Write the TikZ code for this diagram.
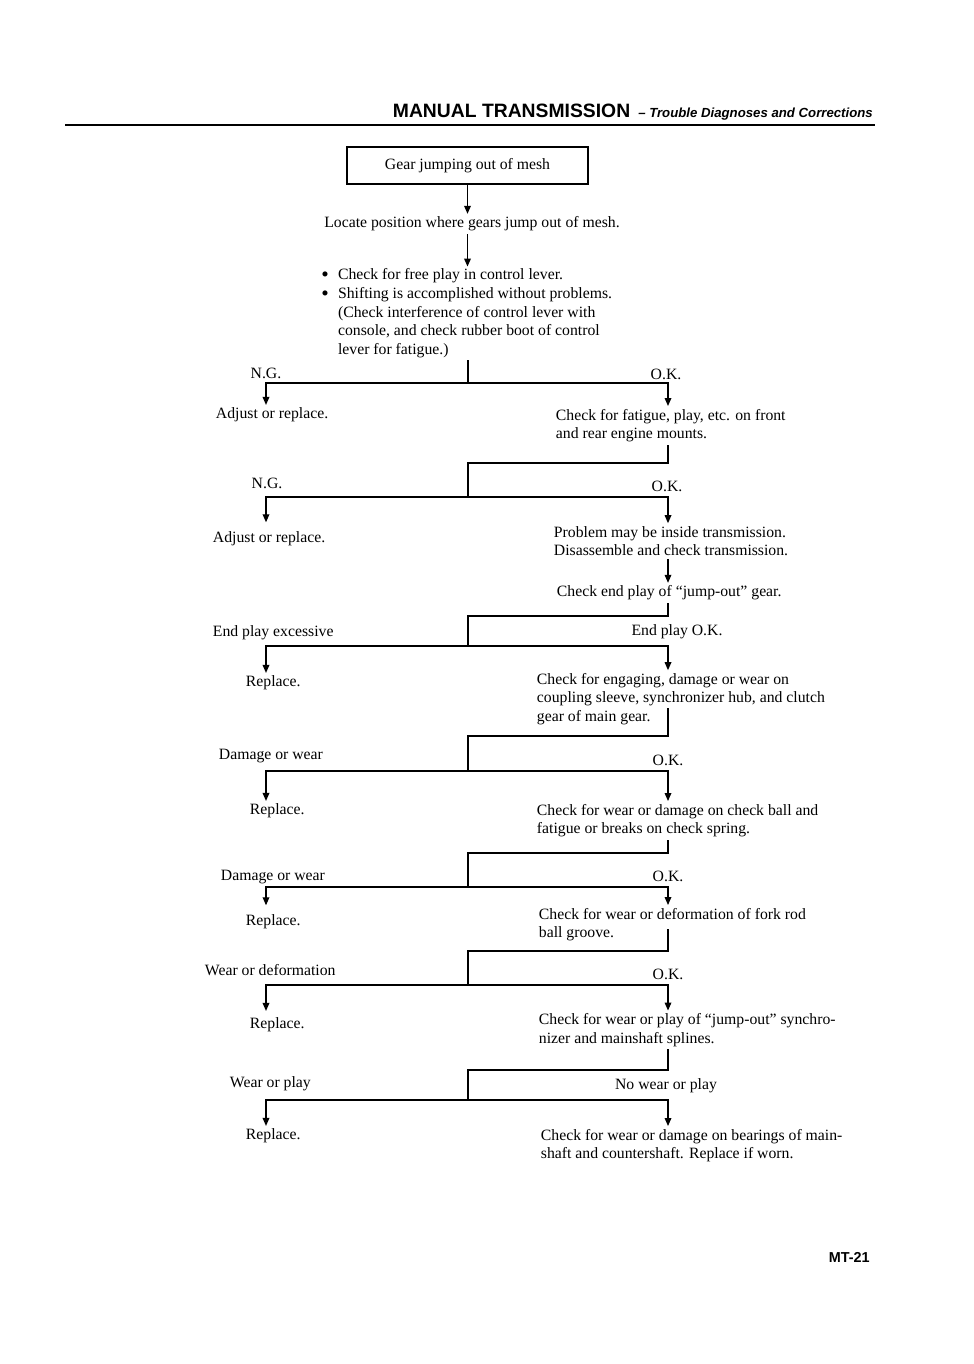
\documentclass[tikz,border=0pt]{standalone}
\usepackage{fontspec}
\setmainfont{Liberation Serif}
\newfontfamily\hdr{Liberation Sans}
\usetikzlibrary{arrows.meta}
\newcommand{\bigbul}{\smash{\raisebox{-1.2pt}{\fontsize{16}{14}\selectfont\textbullet}}}
\begin{document}
\begin{tikzpicture}[x=0.75pt,y=-0.75pt,
  every node/.style={font=\fontsize{11.8}{14}\selectfont, inner sep=2pt},
  txt/.style={anchor=west, align=left, yshift=-1.5pt},
  lab/.style={anchor=center, yshift=-1.5pt},
  ln/.style={line width=0.9pt},
  arr/.style={line width=0.9pt, -{Triangle[width=5pt,length=6pt]}},
  startbox/.style={draw, line width=1.5pt, minimum width=180.75pt, minimum height=27.75pt}
]
\useasboundingbox (0,0) rectangle (974,1364);

% header
\node[anchor=base east, inner sep=0] (hdr) at (873,117)
  {{\hdr\bfseries\fontsize{14.5}{16}\selectfont MANUAL TRANSMISSION}\hspace{6pt}{\hdr\bfseries\itshape\fontsize{9.9}{12}\selectfont – Trouble Diagnoses and Corrections}};
\draw[line width=1.5pt] (65,125) -- (875,125);

% column coordinates
\coordinate (xL) at (266,0);
\coordinate (xM) at (468,0);
\coordinate (xR) at (668,0);

% nodes
\node[startbox] (start) at (467.5,165.5) {Gear jumping out of mesh};
\node[lab] (loc) at (472,222) {Locate position where gears jump out of mesh.};
\node[anchor=west, inner sep=0, yshift=-1.5pt] (bul) at (321,311.5) {\begin{tabular}{@{}l@{\hspace{7pt}}l@{}}
\bigbul & Check for free play in control lever.\\
\bigbul & Shifting is accomplished without problems.\\
 & (Check interference of control lever with\\
 & console, and check rubber boot of control\\
 & lever for fatigue.)\end{tabular}};

\node[lab] (ng1) at (266,371) {N.G.};
\node[lab] (ok1) at (666,372) {O.K.};
\node[txt] (adj1) at (213,413) {Adjust or replace.};
\node[txt] (mounts) at (553,423.5) {Check for fatigue, play, etc. on front\\and rear engine mounts.};

\node[lab] (ng2) at (267,481) {N.G.};
\node[lab] (ok2) at (667,484) {O.K.};
\node[txt] (adj2) at (210,537) {Adjust or replace.};
\node[txt] (prob) at (551,539) {Problem may be inside transmission.\\Disassemble and check transmission.};
\node[txt] (endp) at (554,591) {Check end play of “jump-out” gear.};

\node[txt] (exc) at (210,631) {End play excessive};
\node[lab] (epok) at (677,630) {End play O.K.};
\node[txt] (rep1) at (243,681) {Replace.};
\node[txt] (eng) at (534,697) {Check for engaging, damage or wear on\\coupling sleeve, synchronizer hub, and clutch\\gear of main gear.};

\node[txt] (dw1) at (216,754) {Damage or wear};
\node[lab] (ok4) at (668,758) {O.K.};
\node[txt] (rep2) at (247,809) {Replace.};
\node[txt] (ball) at (534,818.5) {Check for wear or damage on check ball and\\fatigue or breaks on check spring.};

\node[txt] (dw2) at (218,875) {Damage or wear};
\node[lab] (ok5) at (668,874) {O.K.};
\node[txt] (rep3) at (243,920) {Replace.};
\node[txt] (fork) at (536,922.5) {Check for wear or deformation of fork rod\\ball groove.};

\node[txt] (wd) at (202,968) {Wear or deformation};
\node[lab] (ok6) at (668,972) {O.K.};
\node[txt] (rep4) at (247,1023) {Replace.};
\node[txt] (sync) at (536,1028) {Check for wear or play of “jump-out” synchro-\\nizer and mainshaft splines.};

\node[txt] (wp) at (227,1082) {Wear or play};
\node[lab] (nwp) at (666,1084) {No wear or play};
\node[txt] (rep5) at (243,1134) {Replace.};
\node[txt] (bear) at (538,1143.5) {Check for wear or damage on bearings of main-\\shaft and countershaft. Replace if worn.};

\node[anchor=base east, inner sep=0, font=\hdr\bfseries\fontsize{10.8}{12}\selectfont] (mt) at (870,1262) {MT-21};

% junction coordinates
\coordinate (b1) at (468,383);
\coordinate (h2) at (468,463);
\coordinate (b2) at (468,497);
\coordinate (h3) at (468,616);
\coordinate (b3) at (468,646);
\coordinate (s4) at (668,708);
\coordinate (h4) at (468,736);
\coordinate (b4) at (468,771);
\coordinate (h5) at (468,853);
\coordinate (b5) at (468,887);
\coordinate (s6) at (668,929);
\coordinate (h6) at (468,951);
\coordinate (b6) at (468,985);
\coordinate (h7) at (468,1070);
\coordinate (b7) at (468,1100);

% connectors
\draw[arr] (start.south) -- (start.south |- loc.north);
\draw[arr] (loc.south -| start.south) -- (start.south |- bul.north);

\draw[ln] (bul.south -| xM) -- (b1);
\draw[arr] (b1) -| (adj1.north -| xL);
\draw[arr] (b1) -| (mounts.north -| xR);

\draw[ln] (mounts.south -| xR) |- (h2) -- (b2);
\draw[arr, shorten >=5pt] (b2) -| (adj2.north -| xL);
\draw[arr] (b2) -| (prob.north -| xR);
\draw[arr] (prob.south -| xR) -- (endp.north -| xR);

\draw[ln] (endp.south -| xR) |- (h3) -- (b3);
\draw[arr] (b3) -| (rep1.north -| xL);
\draw[arr] (b3) -| (eng.north -| xR);

\draw[ln] (s4) |- (h4) -- (b4);
\draw[arr] (b4) -| (rep2.north -| xL);
\draw[arr] (b4) -| (ball.north -| xR);

\draw[ln] (ball.south -| xR) |- (h5) -- (b5);
\draw[arr, shorten >=5pt] (b5) -| (rep3.north -| xL);
\draw[arr] (b5) -| (fork.north -| xR);

\draw[ln] (s6) |- (h6) -- (b6);
\draw[arr, shorten >=3pt] (b6) -| (rep4.north -| xL);
\draw[arr] (b6) -| (sync.north -| xR);

\draw[ln] (sync.south -| xR) |- (h7) -- (b7);
\draw[arr] (b7) -| (rep5.north -| xL);
\draw[arr] (b7) -| (bear.north -| xR);
\end{tikzpicture}
\end{document}
